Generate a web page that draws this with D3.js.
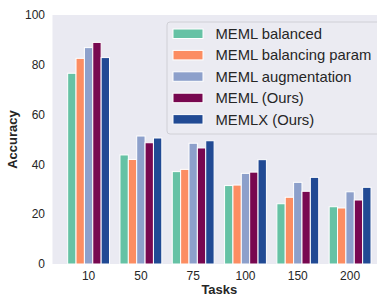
<!DOCTYPE html>
<html><head><meta charset="utf-8">
<script src="https://cdn.jsdelivr.net/npm/d3@7"></script>
<style>body{margin:0;background:#fff;}svg{display:block;font-family:"Liberation Sans",Arial,sans-serif;}</style>
</head><body>
<svg id="c" width="377" height="296"></svg>
<script>
const categories = ["10","50","75","100","150","200"];
const seriesNames = ["MEML balanced","MEML balancing param","MEML augmentation","MEML (Ours)","MEMLX (Ours)"];
const colors = ["#66c2a5","#fc8d62","#8da0cb","#780850","#214a94"];
const memlBalanced = [76.6,43.8,37.1,31.5,24.2,23.0];
const memlBalancingParam = [82.6,42.0,38.0,31.7,26.8,22.5];
const memlAugmentation = [86.9,51.4,48.5,36.4,32.8,29.0];
const memlOurs = [89.0,48.7,46.6,36.9,29.2,25.7];
const memlxOurs = [82.9,50.6,49.5,41.9,34.8,30.8];
const yTicks = [0,20,40,60,80,100];
const series = [memlBalanced,memlBalancingParam,memlAugmentation,memlOurs,memlxOurs];

const svg = d3.select("#c");
const pLeft = 52.5, pTop = 15, pBottom = 264;
const x = d3.scaleLinear().domain([-0.69, 5.69]).range([pLeft, pLeft + 6.38*52.3]);
const y = d3.scaleLinear().domain([0,100]).range([pBottom, pTop]);
const bw = 0.16;

svg.append("rect").attr("x", pLeft).attr("y", pTop).attr("width", x(5.69)-pLeft).attr("height", pBottom-pTop).attr("fill", "#eaeaf2");

series.forEach((vals, j) => {
  svg.append("g").selectAll("rect").data(vals).join("rect")
    .attr("x", (d,i) => x(i + (j-2)*bw - bw/2))
    .attr("width", x(bw) - x(0))
    .attr("y", d => y(d))
    .attr("height", d => y(0) - y(d))
    .attr("fill", colors[j])
    .attr("stroke", "#fff").attr("stroke-width", 1);
});

svg.append("g").selectAll("text").data(yTicks).join("text")
  .attr("x", 45).attr("y", d => y(d)).attr("dy", "0.35em")
  .attr("text-anchor", "end").attr("font-size", 12).attr("fill", "#262626")
  .text(d => d);
svg.append("g").selectAll("text").data(categories).join("text")
  .attr("x", (d,i) => x(i)).attr("y", 280)
  .attr("text-anchor", "middle").attr("font-size", 12).attr("fill", "#262626")
  .text(d => d);

svg.append("text").attr("x", (x(-0.69)+x(5.69))/2).attr("y", 294).attr("text-anchor", "middle")
  .attr("font-size", 13).attr("font-weight", "bold").attr("fill", "#262626").text("Tasks");
svg.append("text").attr("transform", `translate(17,${(pTop+pBottom)/2}) rotate(-90)`)
  .attr("text-anchor", "middle").attr("font-size", 13).attr("font-weight", "bold").attr("fill", "#262626").text("Accuracy");

const lg = svg.append("g");
lg.append("rect").attr("x", 167).attr("y", 22).attr("width", 230).attr("height", 112).attr("rx", 3)
  .attr("fill", "#ebebf2").attr("stroke", "#d0d0d6").attr("stroke-width", 1);
seriesNames.forEach((n, j) => {
  const cy = 33.7 + j*21.4;
  lg.append("rect").attr("x", 173).attr("y", cy - 4.7).attr("width", 30).attr("height", 9.5)
    .attr("fill", colors[j]).attr("stroke", "#fff").attr("stroke-width", 1);
  lg.append("text").attr("x", 215.5).attr("y", cy).attr("dy", "0.36em")
    .attr("font-size", 14.8).attr("fill", "#262626").text(n);
});
</script>
</body></html>
